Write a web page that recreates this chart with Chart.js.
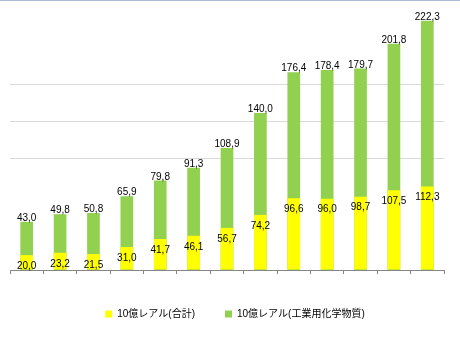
<!DOCTYPE html>
<html>
<head>
<meta charset="utf-8">
<script src="https://cdn.jsdelivr.net/npm/chart.js@4"></script>
<style>
  html, body { margin: 0; padding: 0; background: #fff; }
  #wrap { width: 460px; height: 338px; position: relative; }
</style>
</head>
<body>
<div id="wrap"><canvas id="chart"></canvas></div>
<script>
const years = ['1996', '1997', '1998', '1999', '2000', '2001', '2002', '2003', '2004', '2005', '2006', '2007', '2008'];
const totalValues = [20.0, 23.2, 21.5, 31.0, 41.7, 46.1, 56.7, 74.2, 96.6, 96.0, 98.7, 107.5, 112.3];
const chemValues = [43.0, 49.8, 50.8, 65.9, 79.8, 91.3, 108.9, 140.0, 176.4, 178.4, 179.7, 201.8, 222.3];
const seriesNames = ['10億レアル(合計)', '10億レアル(工業用化学物質)'];
const visibleGrid = [150, 200, 250];

const fmt = v => v.toFixed(1).replace('.', ',');
const font = '"Liberation Sans", "Noto Sans CJK JP", Arial, sans-serif';

// value labels + thin frame line on top
const valueLabels = {
  id: 'valueLabels',
  afterLayout(chart) {
    // legend sits a bit right of centre in the original
    chart.legend.left += 8;
    chart.legend.right += 8;
  },
  beforeDraw(chart) {
    const c = chart.ctx;
    c.save();
    c.strokeStyle = '#a9bcd6';
    c.lineWidth = 1;
    c.beginPath();
    c.moveTo(0, 0.5);
    c.lineTo(chart.width, 0.5);
    c.stroke();
    c.restore();
  },
  afterDatasetsDraw(chart) {
    const c = chart.ctx;
    c.save();
    c.font = '10px ' + font;
    c.fillStyle = '#000';
    c.textAlign = 'center';
    c.textBaseline = 'alphabetic';
    chart.getDatasetMeta(1).data.forEach((bar, i) => {
      c.fillText(fmt(chemValues[i]), bar.x, bar.y - 1);
    });
    c.textBaseline = 'middle';
    chart.getDatasetMeta(0).data.forEach((bar, i) => {
      c.fillText(fmt(totalValues[i]), bar.x, bar.y + 11);
    });
    c.restore();
  }
};

new Chart(document.getElementById('chart'), {
  type: 'bar',
  data: {
    labels: years,
    datasets: [{
      label: seriesNames[0],
      data: totalValues,
      backgroundColor: '#ffff00',
      borderWidth: 0,
      yAxisID: 'y',
      grouped: false
    }, {
      label: seriesNames[1],
      data: chemValues,
      backgroundColor: '#92d050',
      borderWidth: 0,
      yAxisID: 'y2',
      grouped: false
    }]
  },
  options: {
    responsive: true,
    maintainAspectRatio: false,
    animation: false,
    categoryPercentage: 1,
    barPercentage: 0.38,
    layout: { padding: { top: 10, left: 10, right: 16, bottom: 9 } },
    plugins: {
      tooltip: { enabled: false },
      legend: {
        position: 'bottom',
        labels: {
          boxWidth: 7,
          boxHeight: 7,
          padding: 30,
          color: '#000',
          font: { family: font, size: 10 }
        }
      }
    },
    scales: {
      x: {
        offset: true,
        afterFit(scale) { scale.height = 9; },
        grid: { offset: true, drawOnChartArea: false, tickLength: 4, color: '#868686' },
        border: { color: '#868686' },
        ticks: { color: '#000', padding: 6, font: { family: font, size: 10 } }
      },
      y: {
        min: 0,
        max: 350,
        display: true,
        ticks: { display: false, stepSize: 50 },
        border: { display: false },
        grid: {
          drawTicks: false,
          color: ctx => visibleGrid.includes(ctx.tick.value) ? '#d9d9d9' : 'rgba(0,0,0,0)'
        }
      },
      y2: {
        min: 0,
        max: 232,
        display: false
      }
    }
  },
  plugins: [valueLabels]
});
</script>
</body>
</html>
